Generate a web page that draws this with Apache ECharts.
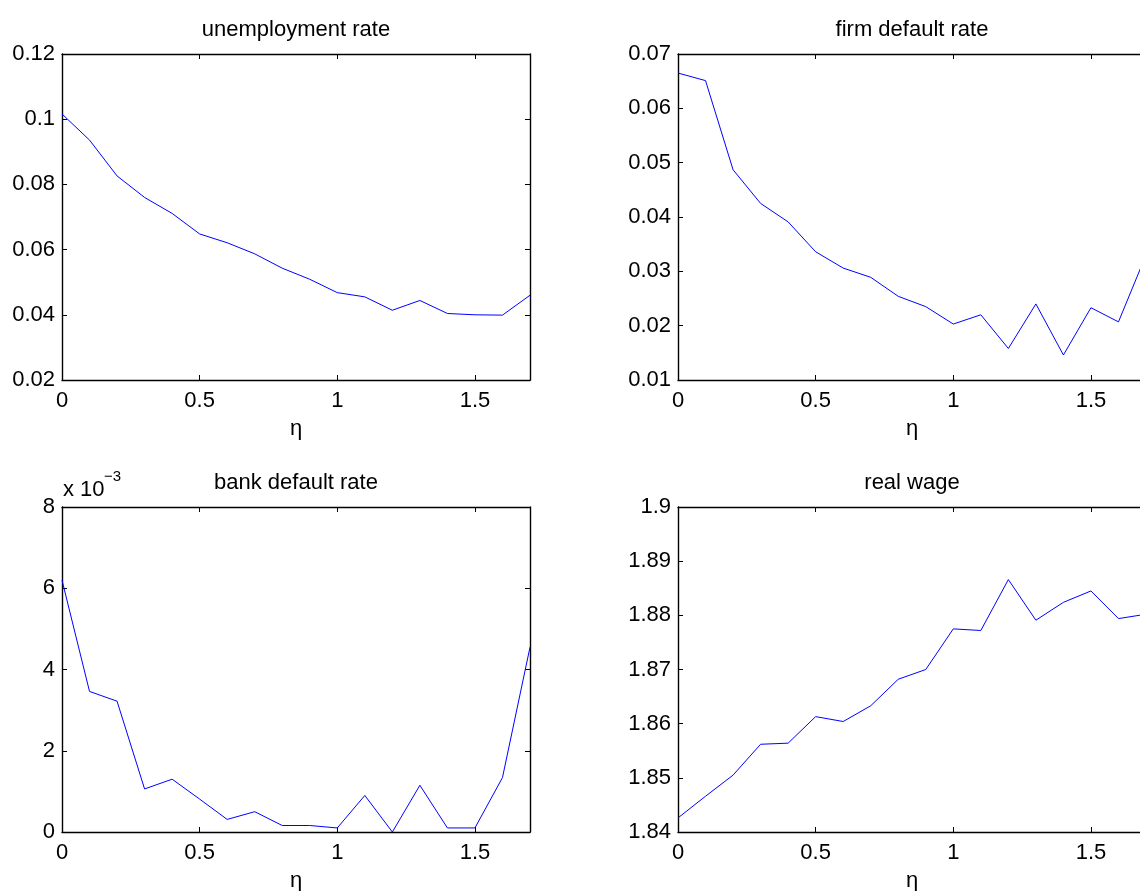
<!DOCTYPE html>
<html>
<head>
<meta charset="utf-8">
<script src="https://cdn.jsdelivr.net/npm/echarts@6/dist/echarts.min.js"></script>
<style>
  html, body { margin: 0; padding: 0; background: #fff; }
  #chart { width: 1140px; height: 891px; }
</style>
</head>
<body>
<div id="chart"></div>
<script>
// ── data ──
const ETA = [0, 0.1, 0.2, 0.3, 0.4, 0.5, 0.6, 0.7, 0.8, 0.9, 1.0, 1.1, 1.2, 1.3, 1.4, 1.5, 1.6, 1.7];
const X_TICKS = [0, 0.5, 1, 1.5];

const UNEMPLOYMENT = [0.1016, 0.0936, 0.0826, 0.0760, 0.0711, 0.0648, 0.0621, 0.0587, 0.0543,
  0.0509, 0.0468, 0.0455, 0.0414, 0.0444, 0.0404, 0.0400, 0.0399, 0.0460];
const FIRM_DEFAULT = [0.0665, 0.0651, 0.0487, 0.0425, 0.0391, 0.0336, 0.0306, 0.0289, 0.0254,
  0.0235, 0.0203, 0.0220, 0.0158, 0.0240, 0.0146, 0.0233, 0.0207, 0.0330];
const BANK_DEFAULT = [0.00620, 0.00346, 0.00322, 0.00106, 0.00130, 0.00081, 0.00031, 0.00050, 0.00016,
  0.00016, 0.00010, 0.00090, 0.00000, 0.00115, 0.00010, 0.00010, 0.00134, 0.00455];
const REAL_WAGE = [1.8426, 1.8466, 1.8505, 1.8562, 1.8564, 1.8613, 1.8604, 1.8633, 1.8682,
  1.8700, 1.8775, 1.8772, 1.8866, 1.8791, 1.8824, 1.8845, 1.8794, 1.8802];

const FONT = 'Liberation Sans, Arial, Helvetica, sans-serif';
const FS = 22;

// panel layout: pixel boxes of the four axes
const panels = [
  { title: 'unemployment rate', values: UNEMPLOYMENT, left: 62, top: 54, height: 326, min: 0.02, max: 0.12, interval: 0.02 },
  { title: 'firm default rate', values: FIRM_DEFAULT, left: 678, top: 54, height: 326, min: 0.01, max: 0.07, interval: 0.01 },
  { title: 'bank default rate', values: BANK_DEFAULT, left: 62, top: 507, height: 325, min: 0, max: 0.008, interval: 0.002,
    fmt: (v) => String(Math.round(v * 1000)) },
  { title: 'real wage', values: REAL_WAGE, left: 678, top: 507, height: 325, min: 1.84, max: 1.9, interval: 0.01 },
];
const PLOT_W = 468;

const chart = echarts.init(document.getElementById('chart'), null, { renderer: 'canvas' });

const grid = [], xAxis = [], yAxis = [], series = [], graphic = [];

const lineStyle = { show: true, onZero: false, lineStyle: { color: '#000', width: 1.4 } };
const tickStyle = { show: true, inside: true, length: 5, lineStyle: { color: '#000', width: 1 } };

panels.forEach((p, i) => {
  grid.push({
    left: p.left, top: p.top, width: PLOT_W, height: p.height,
    containLabel: false, outerBoundsMode: 'none',
  });

  // bottom axis with labels, top axis just for the mirrored ticks
  ['bottom', 'top'].forEach((pos) => {
    xAxis.push({
      type: 'value', gridIndex: i, position: pos,
      min: 0, max: 1.7,
      axisLine: lineStyle,
      axisTick: Object.assign({ customValues: X_TICKS }, tickStyle),
      axisLabel: pos === 'bottom'
        ? { show: true, customValues: X_TICKS, color: '#000', fontFamily: FONT, fontSize: FS, margin: 10 }
        : { show: false },
      splitLine: { show: false },
    });
  });

  ['left', 'right'].forEach((pos) => {
    yAxis.push({
      type: 'value', gridIndex: i, position: pos,
      min: p.min, max: p.max, interval: p.interval,
      axisLine: lineStyle,
      axisTick: tickStyle,
      axisLabel: pos === 'left'
        ? { show: true, color: '#000', fontFamily: FONT, fontSize: FS, margin: 7, formatter: p.fmt }
        : { show: false },
      splitLine: { show: false },
    });
  });

  series.push({
    type: 'line',
    xAxisIndex: i * 2, yAxisIndex: i * 2,
    data: ETA.map((x, k) => [x, p.values[k]]),
    showSymbol: false, symbol: 'none',
    lineStyle: { color: '#0000ff', width: 1 },
    silent: true, animation: false,
  });

  const cx = p.left + PLOT_W / 2;
  graphic.push({
    type: 'text', x: cx, y: p.top - 24,
    style: { text: p.title, fill: '#000', font: `${FS}px ${FONT}`, textAlign: 'center', textVerticalAlign: 'middle' },
  });
  graphic.push({
    type: 'text', x: cx, y: p.top + p.height + 49,
    style: { text: 'η', fill: '#000', font: `${FS}px ${FONT}`, textAlign: 'center', textVerticalAlign: 'middle' },
  });
});

// exponent note above the bank default panel
graphic.push({
  type: 'text', x: 63, y: 490,
  style: { text: 'x 10', fill: '#000', font: `${FS}px ${FONT}`, textAlign: 'left', textVerticalAlign: 'middle' },
});
graphic.push({
  type: 'text', x: 104, y: 477,
  style: { text: '−3', fill: '#000', font: `15px ${FONT}`, textAlign: 'left', textVerticalAlign: 'middle' },
});

chart.setOption({
  animation: false,
  backgroundColor: '#fff',
  grid, xAxis, yAxis, series, graphic,
});
</script>
</body>
</html>
